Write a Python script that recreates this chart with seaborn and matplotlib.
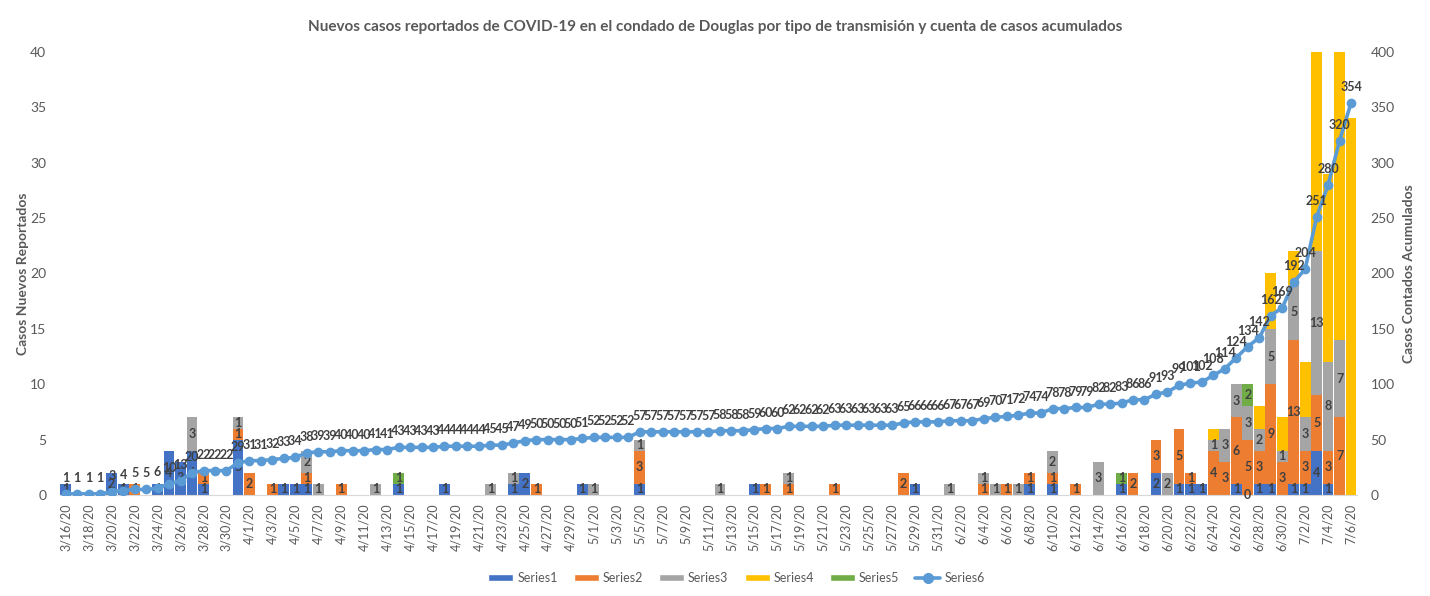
import numpy as np
import pandas as pd
import seaborn as sns
import matplotlib.pyplot as plt
from matplotlib.patches import Patch
from matplotlib.lines import Line2D

# categories: one bar per day, 3/16/20 .. 7/6/20
dates = pd.date_range("2020-03-16", "2020-07-06", freq="D")
keys = [f"{d.month}/{d.day}" for d in dates]
date_labels = [k + "/20" for k in keys]

# new cases per day by transmission type (blank days left out)
series1 = {"3/16": 1, "3/20": 2, "3/21": 1, "3/24": 1, "3/25": 4, "3/26": 3, "3/27": 4,
           "3/28": 1, "3/31": 5, "4/4": 1, "4/5": 1, "4/6": 1, "4/14": 1, "4/18": 1,
           "4/24": 1, "4/25": 2, "4/30": 1, "5/5": 1, "5/15": 1, "5/29": 1, "6/8": 1,
           "6/10": 1, "6/16": 1, "6/19": 2, "6/21": 1, "6/22": 1, "6/23": 1, "6/26": 1,
           "6/27": 0, "6/28": 1, "6/29": 1, "7/1": 1, "7/2": 1, "7/3": 4, "7/4": 1}
series2 = {"3/22": 1, "3/28": 1, "3/31": 1, "4/1": 2, "4/3": 1, "4/6": 1, "4/9": 1,
           "4/26": 1, "5/5": 3, "5/16": 1, "5/18": 1, "5/22": 1, "5/28": 2, "6/4": 1,
           "6/6": 1, "6/8": 1, "6/10": 1, "6/12": 1, "6/17": 2, "6/19": 3, "6/21": 5,
           "6/22": 1, "6/24": 4, "6/25": 3, "6/26": 6, "6/27": 5, "6/28": 3, "6/29": 9,
           "6/30": 3, "7/1": 13, "7/2": 3, "7/3": 5, "7/4": 3, "7/5": 7}
series3 = {"3/27": 3, "3/31": 1, "4/6": 2, "4/7": 1, "4/12": 1, "4/22": 1, "4/24": 1,
           "5/1": 1, "5/5": 1, "5/12": 1, "5/18": 1, "6/1": 1, "6/4": 1, "6/5": 1,
           "6/7": 1, "6/10": 2, "6/14": 3, "6/20": 2, "6/24": 1, "6/25": 3, "6/26": 3,
           "6/27": 3, "6/28": 2, "6/29": 5, "6/30": 1, "7/1": 5, "7/2": 3, "7/3": 13,
           "7/4": 8, "7/5": 7}
series4 = {"6/24": 1, "6/28": 2, "6/29": 5, "6/30": 3, "7/1": 3, "7/2": 5, "7/3": 25,
           "7/4": 17, "7/5": 26, "7/6": 34}
series5 = {"4/14": 1, "6/16": 1, "6/27": 2}

# cumulative count (Series6), as labelled on the chart
cumulative = [1, 1, 1, 1, 3, 4, 5, 5, 6, 10, 13, 20, 22, 22, 22, 29,
              31, 31, 32, 33, 34, 38, 39, 39, 40, 40, 40, 41, 41, 43, 43, 43, 43,
              44, 44, 44, 44, 45, 45, 47, 49, 50, 50, 50, 50, 51,
              52, 52, 52, 52, 57, 57, 57, 57, 57, 57, 57, 58, 58, 58, 59, 60, 60,
              62, 62, 62, 62, 63, 63, 63, 63, 63, 63, 65, 66, 66, 66,
              67, 67, 67, 69, 70, 71, 72, 74, 74, 78, 78, 79, 79, 82, 82, 83, 86, 86,
              91, 93, 99, 101, 102, 108, 114, 124, 134, 142, 162, 169,
              192, 204, 251, 280, 320, 354]

names = ["Series1", "Series2", "Series3", "Series4", "Series5"]
colors = ["#4472C4", "#ED7D31", "#A5A5A5", "#FFC000", "#70AD47"]
show_labels = [True, True, True, False, True]
line_color = "#5B9BD5"
txt = "#404040"
grey = "#595959"

sns.set_style("white")
plt.rcParams["font.family"] = ["Lato", "DejaVu Sans"]

n = len(keys)


def expand(d):
    return np.array([d.get(k, 0) for k in keys], dtype=float)


all_series = [series1, series2, series3, series4, series5]
df = pd.DataFrame({"fecha": date_labels})
running = np.zeros(n)
for name, s in zip(names, all_series):
    running = running + expand(s)
    df[name] = running

fig = plt.figure(figsize=(14.3, 5.96), dpi=100)
ax = fig.add_axes([0.042, 0.1695, 0.9068, 0.7433])

# stacked bars: draw the cumulative tops from highest layer down
for name, col in reversed(list(zip(names, colors))):
    sns.barplot(data=df, x="fecha", y=name, order=date_labels, color=col,
                saturation=1, width=0.94, linewidth=0, errorbar=None, ax=ax)

base = np.zeros(n)
for s, show in zip(all_series, show_labels):
    if show:
        for k, v in s.items():
            i = keys.index(k)
            ax.text(i, base[i] + v / 2, str(v), ha="center", va="center",
                    fontsize=9, fontweight="bold", color=txt, clip_on=False)
    base = base + expand(s)

ax.set_xlim(-0.5, n - 0.5)
ax.set_ylim(0, 40)
ax.set_yticks(range(0, 41, 5))
ax.set_xticks(range(0, n, 2))
ax.set_xticklabels(date_labels[::2], rotation=90)
ax.set_xticks(np.arange(-0.5, n, 2), minor=True)
ax.tick_params(axis="x", which="major", length=0, pad=6, labelsize=9, labelcolor=grey)
ax.tick_params(axis="x", which="minor", length=5, color="#D9D9D9", width=0.8)
ax.tick_params(axis="y", length=0, pad=10, labelsize=10, labelcolor=grey)
ax.set_xlabel("")
ax.set_ylabel("Casos Nuevos Reportados", fontsize=10, fontweight="bold", color=grey)
ax.yaxis.set_label_coords(-0.024, 0.5)
for side in ["top", "left", "right"]:
    ax.spines[side].set_visible(False)
ax.spines["bottom"].set_color("#D9D9D9")

# cumulative line on the secondary axis
ax2 = ax.twinx()
line_df = pd.DataFrame({"pos": np.arange(n), "total": cumulative})
sns.lineplot(data=line_df, x="pos", y="total", ax=ax2, color=line_color, linewidth=2.6,
             marker="o", markersize=7, markeredgecolor=line_color, markeredgewidth=0)
for i, v in enumerate(cumulative):
    ax2.annotate(str(v), (i, v), xytext=(0, 11.5), textcoords="offset points",
                 ha="center", va="center", fontsize=9, fontweight="bold", color=txt)
ax2.set_xlim(-0.5, n - 0.5)
ax2.set_ylim(0, 400)
ax2.set_yticks(range(0, 401, 50))
ax2.tick_params(axis="y", length=0, pad=10, labelsize=10, labelcolor=grey)
ax2.set_ylabel("Casos Contados Acumulados", fontsize=10, fontweight="bold", color=grey)
ax2.yaxis.set_label_coords(1.036, 0.5)
for side in ["top", "left", "right", "bottom"]:
    ax2.spines[side].set_visible(False)

fig.text(0.5, 1 - 27 / 596,
         "Nuevos casos reportados de COVID-19 en el condado de Douglas por tipo de "
         "transmisión y cuenta de casos acumulados",
         ha="center", va="center", fontsize=11, fontweight="bold", color=grey)

handles = [Patch(facecolor=c, label=nm) for nm, c in zip(names, colors)]
handles.append(Line2D([], [], color=line_color, lw=2.6, marker="o", ms=7, label="Series6"))
fig.legend(handles=handles, loc="center", bbox_to_anchor=(0.515, 0.03), ncol=6,
           frameon=False, fontsize=9, handlelength=2.0, handleheight=0.45,
           handletextpad=0.3, columnspacing=1.3, labelcolor=grey)

fig.savefig("out.png", dpi=100)
